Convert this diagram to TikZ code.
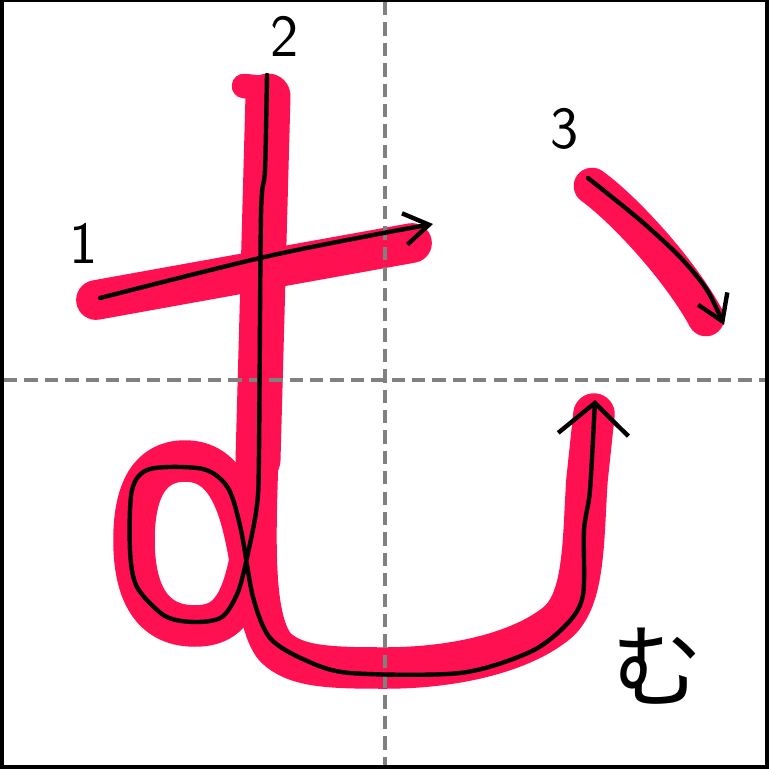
\documentclass[tikz,border=0pt]{standalone}
\usepackage{fontspec}
\newfontfamily\jpfont{Noto Sans CJK JP}
\usetikzlibrary{arrows.meta}
\definecolor{brushpink}{RGB}{255,16,80}
\definecolor{guidegray}{RGB}{128,128,128}

\begin{document}
\begin{tikzpicture}[x=0.01cm, y=-0.01cm, >={Straight Barb[length=7pt, width=9pt]},
    brush/.style={draw=brushpink, line cap=round, line join=round, line width=11.8pt},
    trace/.style={draw=black, line width=1.25pt, line join=round, line cap=round},
    guide/.style={draw=guidegray, line width=1pt, dash pattern=on 3.8pt off 2pt},
    num/.style={font=\sffamily\fontsize{17}{17}\selectfont, inner sep=0pt}]
    % frame
    \fill[black] (0,0) rectangle (769,769);
    \fill[white] (4,2) rectangle (765,765);

    % brush strokes
    \draw[brush, line width=11.3pt] (96,300) -- (412,243);
    \draw[brush, line width=7pt] (244,86) -- (262,88);
    \draw[brush, line width=12.8pt] (268,96) -- (258,460);
    \draw[brush] (258,450) .. controls (255,540) and (252,618) .. (275,647)
        .. controls (295,667) and (330,668) .. (385,668)
        .. controls (460,668) and (525,650) .. (558,622)
        .. controls (585,598) and (583,540) .. (587,480) -- (594,414);
    \draw[brush] (250,560) .. controls (240,610) and (225,626) .. (195,626)
        .. controls (150,626) and (134,590) .. (134,540)
        .. controls (134,490) and (150,461) .. (185,461)
        .. controls (225,461) and (240,500) .. cycle;
    \draw[brush, line width=10.4pt] (592,186) .. controls (625,210) and (680,270) .. (706,318);

    % guide lines
    \draw[guide] (385,2) -- (385,765);
    \draw[guide] (4,380) -- (765,380);

    % traces
    \draw[trace, ->] plot[smooth] coordinates {(100,298) (260,258) (373,235) (433,224)};
    \draw[trace, -{Straight Barb[length=9pt, width=20pt]}] plot[smooth, tension=0.5] coordinates {
        (267,75) (265,170) (261,215) (259,453) (257,505) (248,553) (238,592) (222,617)
        (195,622) (165,616) (137,587) (130,550) (132,490) (150,469) (203,469) (228,488)
        (241,530) (253,597) (270,638) (305,660) (350,673) (460,673) (530,652) (567,624)
        (583,595) (584,530) (590,490) (595,400)};
    \draw[trace, ->] plot[smooth] coordinates {(588,178) (640,220) (680,257) (707,290) (724,325)};

    % labels
    \node[num] (num1) at (84,243) {1};
    \node[num] (num2) at (285,36) {2};
    \node[num] (num3) at (565,129) {3};
    \node[font=\jpfont\fontsize{26}{26}\selectfont, inner sep=0pt] (sample) at (657,666) {む};
\end{tikzpicture}
\end{document}
